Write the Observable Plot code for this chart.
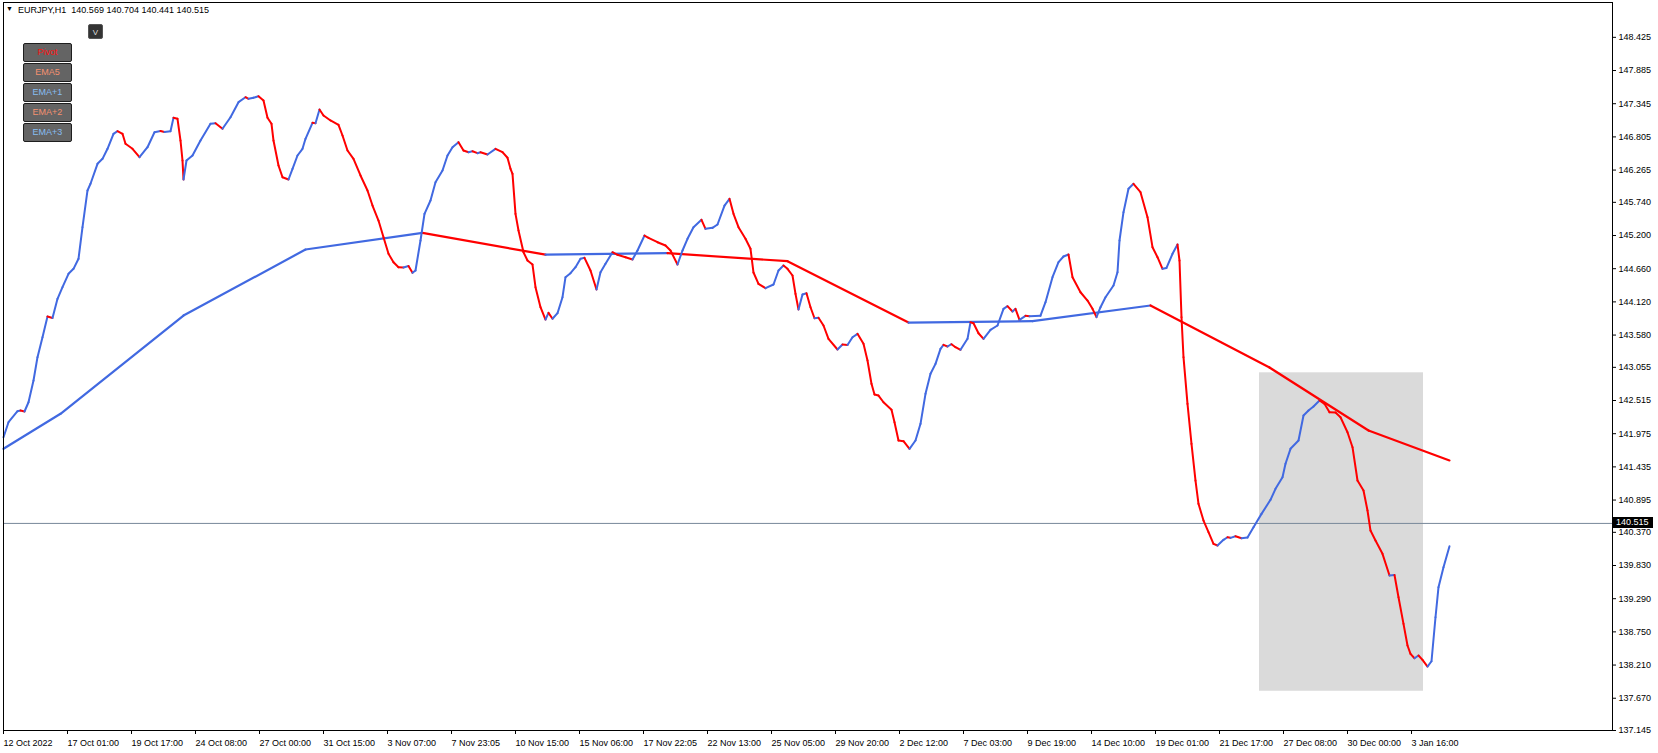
<!DOCTYPE html>
<html><head><meta charset="utf-8">
<script src="https://cdn.jsdelivr.net/npm/d3@7"></script>
<script src="https://cdn.jsdelivr.net/npm/@observablehq/plot@0.6"></script>
<style>
body{margin:0;background:#fff;font-family:"Liberation Sans",Arial,sans-serif;}
#wrap{position:relative;width:1658px;height:753px;overflow:hidden;background:#fff;}
.btn{position:absolute;left:23px;width:49px;height:19px;box-sizing:border-box;border:1px solid #1e1e1e;border-radius:2px;background:#646464;font-size:9px;line-height:17px;text-align:center;}
.ov{position:absolute;white-space:pre;font-size:9px;color:#000;}
</style></head><body><div id="wrap"></div>
<script>
// ---- data ----
const symbolTitle = "EURJPY,H1  140.569 140.704 140.441 140.515";
const lastPrice = 140.515;
const buttons = ["Pivot", "EMA5", "EMA+1", "EMA+2", "EMA+3"];
const buttonColors = ["#ff1010", "#f4906f", "#86bdf0", "#f4906f", "#86bdf0"];

const xLabels = ["12 Oct 2022","17 Oct 01:00","19 Oct 17:00","24 Oct 08:00","27 Oct 00:00","31 Oct 15:00","3 Nov 07:00","7 Nov 23:05","10 Nov 15:00","15 Nov 06:00","17 Nov 22:05","22 Nov 13:00","25 Nov 05:00","29 Nov 20:00","2 Dec 12:00","7 Dec 03:00","9 Dec 19:00","14 Dec 10:00","19 Dec 01:00","21 Dec 17:00","27 Dec 08:00","30 Dec 00:00","3 Jan 16:00"];
const labelBars = [0,64,128,192,256,320,384,448,512,576,640,704,768,832,896,960,1024,1088,1152,1216,1280,1344,1408];

const yTicks = [148.425,147.885,147.345,146.805,146.265,145.740,145.200,144.660,144.120,143.580,143.055,142.515,141.975,141.435,140.895,140.370,139.830,139.290,138.750,138.210,137.670,137.145];

// EMA line (bar index, price)
const emaBars = [0,5,14,17,21,25,30,34,39,44,49,54,59,65,70,75,79,84,87,94,99,104,110,114,119,122,129,136,144,151,157,161,167,170,174,177,179,180,183,189,197,207,212,219,227,235,242,245,250,255,260,264,268,270,275,279,285,289,294,299,302,309,312,316,320,327,335,339,344,350,357,364,369,375,380,385,390,395,400,405,409,412,417,421,427,432,439,444,449,455,460,465,469,474,477,484,492,499,504,507,509,512,515,520,524,529,532,537,542,545,549,554,559,562,567,572,577,581,587,593,597,602,609,614,622,629,634,641,645,654,662,667,674,679,684,690,698,702,709,714,721,726,730,735,742,747,750,755,762,770,775,780,784,789,792,795,799,803,807,811,815,820,825,834,839,844,849,854,860,864,868,871,875,880,888,891,895,900,906,912,917,922,927,932,937,940,944,948,952,957,964,967,970,975,980,987,994,1000,1004,1009,1012,1016,1022,1026,1037,1042,1049,1055,1060,1065,1069,1077,1084,1089,1093,1097,1102,1110,1114,1116,1120,1125,1130,1137,1144,1149,1154,1159,1163,1169,1174,1176,1178,1180,1184,1188,1192,1195,1200,1205,1210,1214,1220,1224,1227,1232,1238,1244,1250,1258,1267,1272,1279,1282,1287,1295,1300,1305,1310,1316,1321,1326,1332,1337,1344,1349,1354,1360,1364,1367,1372,1379,1386,1391,1395,1400,1404,1407,1411,1415,1419,1424,1428,1432,1435,1440,1446];
const emaPrices = [141.918,142.162,142.341,142.352,142.336,142.487,142.840,143.220,143.545,143.882,143.858,144.170,144.359,144.577,144.658,144.821,145.335,145.933,146.042,146.367,146.448,146.611,146.855,146.898,146.855,146.693,146.611,146.474,146.637,146.881,146.900,146.884,146.897,147.116,147.099,146.746,146.421,146.112,146.421,146.502,146.746,147.018,147.028,146.937,147.125,147.370,147.451,147.425,147.441,147.467,147.397,147.116,147.018,146.746,146.339,146.149,146.112,146.286,146.502,146.611,146.774,147.034,147.028,147.251,147.153,147.072,147.002,146.828,146.584,146.448,146.177,145.933,145.688,145.444,145.173,144.902,144.766,144.684,144.680,144.704,144.593,144.631,145.119,145.553,145.770,146.068,146.258,146.502,146.637,146.719,146.584,146.556,146.572,146.540,146.556,146.518,146.611,146.556,146.465,146.286,146.204,145.553,145.282,144.928,144.793,144.728,144.359,144.033,143.833,143.942,143.845,143.936,144.196,144.522,144.587,144.684,144.821,144.837,144.631,144.321,144.603,144.740,144.928,144.886,144.847,144.810,144.956,145.200,145.163,145.091,145.037,144.956,144.728,144.956,145.147,145.335,145.456,145.309,145.325,145.379,145.688,145.797,145.553,145.335,145.147,144.984,144.598,144.414,144.343,144.403,144.631,144.712,144.658,144.549,144.251,143.996,144.240,144.261,144.033,143.854,143.861,143.736,143.519,143.345,143.426,143.418,143.545,143.600,143.438,143.166,142.787,142.613,142.596,142.487,142.364,142.162,141.864,141.853,141.729,141.864,142.136,142.624,142.950,143.112,143.356,143.421,143.394,143.431,143.382,143.340,143.519,143.789,143.773,143.610,143.519,143.666,143.736,144.007,144.050,143.963,144.007,143.828,143.893,143.887,143.895,144.115,144.522,144.766,144.858,144.891,144.522,144.277,144.142,144.007,143.871,144.033,144.196,144.387,144.603,145.119,145.579,145.960,146.042,145.905,145.498,145.010,144.847,144.658,144.672,144.902,145.054,144.793,143.871,143.220,142.461,141.810,141.213,140.834,140.562,140.372,140.183,140.155,140.248,140.290,140.280,140.307,140.274,140.285,140.453,140.670,140.899,141.078,141.267,141.485,141.729,141.864,142.271,142.352,142.417,142.515,142.461,142.325,142.320,142.243,141.999,141.755,141.213,141.050,140.725,140.399,140.237,140.020,139.667,139.675,139.314,138.881,138.528,138.393,138.321,138.365,138.295,138.186,138.272,138.988,139.477,139.802,140.144];

// Pivot / slow line vertices
const pivotBars = [0,57,180,302,419,542,664,784,905,1029,1147,1266,1365,1446];
const pivotPrices = [141.729,142.299,143.898,144.972,145.244,144.888,144.912,144.782,143.784,143.806,144.061,143.052,142.027,141.539];

// shaded zone
const zoneBars = [1256, 1420];
const zonePrices = [137.784, 142.966];

// ---- colours ----
const BLUE = "#4169e1", RED = "#ff0000";

function segments(bars, prices) {
  const out = [];
  for (let i = 1; i < bars.length; i++)
    out.push({x1: bars[i-1], y1: prices[i-1], x2: bars[i], y2: prices[i], c: prices[i] >= prices[i-1] ? BLUE : RED});
  return out;
}
const labelMap = new Map(labelBars.map((b, i) => [b, xLabels[i]]));

const plot = Plot.plot({
  width: 1658, height: 753,
  marginLeft: 3, marginRight: 46, marginTop: 2, marginBottom: 23,
  x: {domain: [0, 1609], axis: null},
  y: {domain: [137.145, 148.992], axis: null},
  style: {fontFamily: "'Liberation Sans', Arial, sans-serif", fontSize: "9px", color: "#000", background: "#fff", overflow: "visible"},
  marks: [
    Plot.rect([0], {x1: () => zoneBars[0], x2: () => zoneBars[1], y1: () => zonePrices[0], y2: () => zonePrices[1], fill: "#dadada"}),
    Plot.ruleY([lastPrice], {stroke: "#778899", strokeWidth: 1}),
    Plot.link(segments(pivotBars, pivotPrices), {x1: "x1", y1: "y1", x2: "x2", y2: "y2", stroke: "c", strokeWidth: 2.2, strokeLinecap: "round"}),
    Plot.link(segments(emaBars, emaPrices), {x1: "x1", y1: "y1", x2: "x2", y2: "y2", stroke: "c", strokeWidth: 2, strokeLinecap: "round"}),
    Plot.frame({stroke: "#000", strokeWidth: 1}),
    Plot.axisY(yTicks, {anchor: "right", tickSize: 3, tickPadding: 3, tickFormat: d => d.toFixed(3), label: null, fontSize: 9}),
    Plot.axisX(labelBars, {anchor: "bottom", tickSize: 4, tickPadding: 5, tickFormat: d => labelMap.get(d), textAnchor: "start", dx: 0, label: null, fontSize: 9})
  ]
});

const wrap = document.getElementById("wrap");
wrap.appendChild(plot);

// overlays: title, panel buttons, price tag
function ov(text, css) {
  const d = document.createElement("div");
  d.className = "ov"; d.textContent = text;
  Object.assign(d.style, css);
  wrap.appendChild(d); return d;
}
ov("\u25BC", {left: "6px", top: "5px", fontSize: "7px"});
ov(symbolTitle, {left: "18px", top: "5px"});
ov("V", {left: "88px", top: "24px", width: "15px", height: "15px", lineHeight: "15px", textAlign: "center", background: "#333", color: "#ddd", fontSize: "8px", border: "1px solid #555", boxSizing: "border-box", borderRadius: "2px"});
buttons.forEach((b, i) => {
  const d = document.createElement("div");
  d.className = "btn"; d.textContent = b;
  d.style.top = (43 + 20 * i) + "px";
  d.style.color = buttonColors[i];
  wrap.appendChild(d);
});
const yPx = plot.scale("y").apply(lastPrice);
ov(lastPrice.toFixed(3), {left: "1613px", top: (yPx - 5.5) + "px", width: "40px", height: "11px", lineHeight: "11px", background: "#000", color: "#fff", paddingLeft: "3px", boxSizing: "border-box"});
</script></body></html>
